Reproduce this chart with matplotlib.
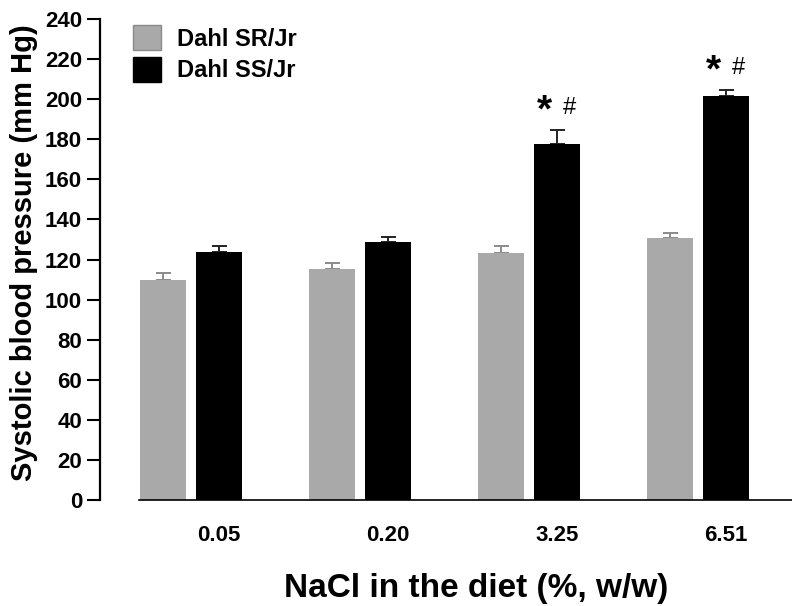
import numpy as np
import matplotlib
matplotlib.use("Agg")
import matplotlib.pyplot as plt
from matplotlib.patches import Patch

plt.rcParams['font.family'] = ['Liberation Sans', 'DejaVu Sans']
plt.rcParams['font.weight'] = 'bold'

# systolic blood pressure (mm Hg), mean and SEM per salt level
nacl = ['0.05', '0.20', '3.25', '6.51']
sr_mean = [110, 115.5, 123.5, 130.5]
sr_err = [3.5, 3, 3, 2.5]
ss_mean = [124, 128.5, 177.5, 201.5]
ss_err = [2.5, 2.5, 7, 3]
marks = ['', '', '*#', '*#']

gray = '#a9a9a9'
x = np.arange(len(nacl))
w = 0.272
off = 0.166

fig = plt.figure(figsize=(7.92, 6.06), dpi=100)
ax = fig.add_axes([0.1263, 0.1749, 0.8737, 0.7937])

ax.bar(x - off, sr_mean, w, color=gray, zorder=2)
ax.bar(x + off, ss_mean, w, color='black', zorder=2)
ax.errorbar(x - off, sr_mean, yerr=[np.zeros(len(x)), sr_err], fmt='none',
            ecolor='#8a8a8a', elinewidth=1.4, capsize=5.4, capthick=1.4, zorder=1)
ax.errorbar(x + off, ss_mean, yerr=[np.zeros(len(x)), ss_err], fmt='none',
            ecolor='#222222', elinewidth=1.4, capsize=5.4, capthick=1.4, zorder=1)

# significance marks over the SS bars
for i, m in enumerate(marks):
    if not m:
        continue
    yy = ss_mean[i] + ss_err[i] + 9.5
    ax.text(x[i] + off - 0.074, yy, '*', fontsize=28, fontweight='bold',
            ha='center', va='center')
    ax.text(x[i] + off + 0.075, yy + 1.5, '#', fontsize=17, fontweight='normal',
            ha='center', va='center')

ax.set_xlim(-0.538, 3.556)
ax.set_ylim(0, 240)
ax.set_yticks(np.arange(0, 241, 20))
ax.set_xticks(x + off)
ax.set_xticklabels(nacl)

for s in ['top', 'right']:
    ax.spines[s].set_visible(False)
ax.spines['left'].set_linewidth(1.6)
ax.spines['bottom'].set_linewidth(1.2)
ax.spines['bottom'].set_bounds(-0.308, 3.556)

ax.tick_params(axis='y', length=9.4, width=1.5, pad=3.5, labelsize=16)
ax.tick_params(axis='x', length=0, pad=18, labelsize=16)

ax.set_ylabel('Systolic blood pressure (mm Hg)', fontsize=21, fontweight='bold')
ax.set_xlabel('NaCl in the diet (%, w/w)', fontsize=24, fontweight='bold')
ax.yaxis.set_label_coords(-0.089, 0.515)
ax.xaxis.set_label_coords(0.543, -0.152)

handles = [Patch(facecolor=gray, edgecolor='#8a8a8a', label='Dahl SR/Jr'),
           Patch(facecolor='black', edgecolor='black', label='Dahl SS/Jr')]
ax.legend(handles=handles, loc='upper left', bbox_to_anchor=(0.168, 0.9587),
          bbox_transform=fig.transFigure, frameon=False, fontsize=17,
          handlelength=1.19, handleheight=1.28, handletextpad=0.65, labelspacing=0.25,
          borderaxespad=0, borderpad=0)

fig.savefig('out.png', dpi=100)
